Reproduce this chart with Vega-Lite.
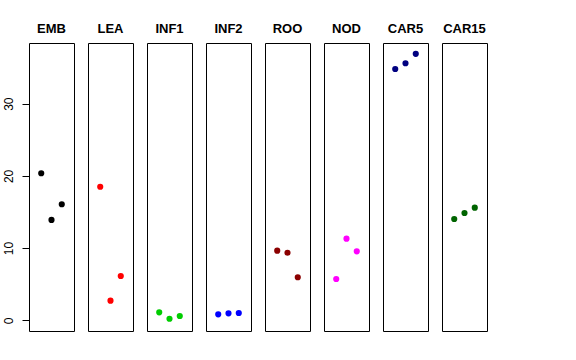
{
  "$schema": "https://vega.github.io/schema/vega-lite/v6.json",
  "padding": {"left": 2, "top": 23, "right": 5, "bottom": 5},
  "background": "white",
  "bounds": "flush",
  "config": {
    "font": "Liberation Sans",
    "view": {"stroke": "black", "strokeWidth": 1},
    "facet": {"spacing": 14}
  },
  "data": {
    "values": [
      {"tissue": "EMB", "rep": 1, "value": 20.36},
      {"tissue": "EMB", "rep": 2, "value": 13.9},
      {"tissue": "EMB", "rep": 3, "value": 16.07},
      {"tissue": "LEA", "rep": 1, "value": 18.5},
      {"tissue": "LEA", "rep": 2, "value": 2.72},
      {"tissue": "LEA", "rep": 3, "value": 6.14},
      {"tissue": "INF1", "rep": 1, "value": 1.1},
      {"tissue": "INF1", "rep": 2, "value": 0.22},
      {"tissue": "INF1", "rep": 3, "value": 0.6},
      {"tissue": "INF2", "rep": 1, "value": 0.83},
      {"tissue": "INF2", "rep": 2, "value": 0.97},
      {"tissue": "INF2", "rep": 3, "value": 1.01},
      {"tissue": "ROO", "rep": 1, "value": 9.64},
      {"tissue": "ROO", "rep": 2, "value": 9.36},
      {"tissue": "ROO", "rep": 3, "value": 5.96},
      {"tissue": "NOD", "rep": 1, "value": 5.72},
      {"tissue": "NOD", "rep": 2, "value": 11.3},
      {"tissue": "NOD", "rep": 3, "value": 9.55},
      {"tissue": "CAR5", "rep": 1, "value": 34.8},
      {"tissue": "CAR5", "rep": 2, "value": 35.6},
      {"tissue": "CAR5", "rep": 3, "value": 36.9},
      {"tissue": "CAR15", "rep": 1, "value": 14.03},
      {"tissue": "CAR15", "rep": 2, "value": 14.86},
      {"tissue": "CAR15", "rep": 3, "value": 15.6}
    ]
  },
  "facet": {
    "column": {
      "field": "tissue",
      "type": "nominal",
      "sort": ["EMB", "LEA", "INF1", "INF2", "ROO", "NOD", "CAR5", "CAR15"],
      "header": {
        "title": null,
        "labelFontWeight": "bold",
        "labelFontSize": 13,
        "labelColor": "black",
        "labelFont": "Liberation Sans",
        "labelPadding": 7
      }
    }
  },
  "spec": {
    "width": 45,
    "height": 288,
    "mark": {"type": "point", "filled": true, "opacity": 1, "size": 38},
    "encoding": {
      "x": {
        "field": "rep",
        "type": "quantitative",
        "scale": {"domain": [-0.19, 4.19], "nice": false, "zero": false},
        "axis": null
      },
      "y": {
        "field": "value",
        "type": "quantitative",
        "scale": {"domain": [-1.48, 38.4], "nice": false, "zero": false},
        "axis": {
          "title": null,
          "values": [0, 10, 20, 30],
          "grid": false,
          "domain": false,
          "tickSize": 7,
          "tickColor": "black",
          "labelAngle": 270,
          "labelFontSize": 12,
          "labelColor": "black",
          "labelPadding": 7
        }
      },
      "color": {
        "field": "tissue",
        "type": "nominal",
        "scale": {
          "domain": ["EMB", "LEA", "INF1", "INF2", "ROO", "NOD", "CAR5", "CAR15"],
          "range": ["#000000", "#FF0000", "#00CD00", "#0000FF", "#8B0000", "#FF00FF", "#000080", "#006400"]
        },
        "legend": null
      }
    }
  }
}
